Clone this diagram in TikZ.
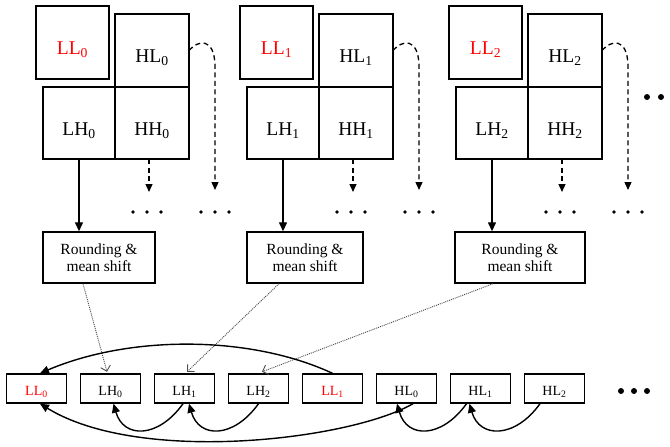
\documentclass[tikz,border=0pt]{standalone}
\usepackage{fontspec}
\setmainfont{Liberation Serif}
\usetikzlibrary{arrows.meta,calc}
\begin{document}
\begin{tikzpicture}[x=1pt,y=-1pt,
 topbox/.style={draw,line width=1.2pt,inner sep=0pt,outer sep=0pt,font=\fontsize{19.5}{22}\selectfont,text height=24pt,text depth=0pt},
 roundbox/.style={draw,line width=1.4pt,inner sep=0pt,align=center,font=\fontsize{15.5}{17}\selectfont,minimum height=51pt},
 rowbox/.style={draw,line width=1.4pt,inner sep=0pt,minimum width=60pt,minimum height=29pt,font=\fontsize{14}{16}\selectfont,text height=14pt,text depth=0pt},
 solidarrow/.style={line width=1.3pt,-{Triangle[length=9pt,width=8pt]}},
 dasharrow/.style={line width=1.3pt,dash pattern=on 5pt off 3.5pt,-{Triangle[length=8pt,width=7pt]}},
 dotarrow/.style={line width=0.9pt,black!70,dash pattern=on 1pt off 1pt,-{Straight Barb[length=5pt,width=10pt]}},
 arcarrow/.style={line width=1.4pt,-{Triangle[length=9pt,width=8pt]}},
 smalldot/.style={circle,fill=black,inner sep=0pt,minimum size=3.6pt},
 bigdot/.style={circle,fill=black,inner sep=0pt,minimum size=6pt}]
\useasboundingbox (0,0) rectangle (670,447);

% top groups
\foreach \i/\b/\rc/\rw in {0/36/99/112, 1/240/305/116, 2/449/520/130}{
  \node[topbox,minimum width=73pt,minimum height=73pt,text=red] (LL\i) at ({\b+36.5},42.5) {LL\textsubscript{\i}};
  \node[topbox,minimum width=74pt,minimum height=73pt] (HL\i) at ({\b+116},50.5) {HL\textsubscript{\i}};
  \node[topbox,minimum width=72pt,minimum height=72pt] (LH\i) at ({\b+43},123) {LH\textsubscript{\i}};
  \node[topbox,minimum width=74pt,minimum height=72pt] (HH\i) at ({\b+116},123) {HH\textsubscript{\i}};
  \node[roundbox,minimum width=\rw pt] (R\i) at (\rc,257.5) {Rounding \&\\mean shift};
  \draw[solidarrow] (LH\i.south) -- (LH\i.south |- R\i.north);
  \coordinate (hhend\i) at ({\b+113},192);
  \draw[dasharrow] (HH\i.south -| hhend\i) -- (hhend\i);
  \coordinate (hlend\i) at ({\b+179},190);
  \draw[dasharrow] (HL\i.east) .. controls ({\b+162},40) and ({\b+178},37) .. ({\b+179},65) -- (hlend\i);
  \foreach \dx in {-14,0,14}{
    \node[smalldot] (da\i\dx) at ({\b+111+\dx},212) {};
    \node[smalldot] (db\i\dx) at ({\b+179+\dx},212) {};
  }
}
\node[bigdot] (rd1) at (647,97) {};
\node[bigdot] (rd2) at (661,97) {};

% bottom row
\foreach \n/\t/\c/\col [count=\k from 0] in {bLL0/LL/0/red, bLH0/LH/0/black, bLH1/LH/1/black, bLH2/LH/2/black, bLL1/LL/1/red, bHL0/HL/0/black, bHL1/HL/1/black, bHL2/HL/2/black}{
  \node[rowbox,text=\col] (\n) at ({36.5+74*\k},388.5) {\t\textsubscript{\c}};
}

\foreach \dx [count=\j] in {621,634,647}{ \node[bigdot] (bd\j) at (\dx,391) {}; }

% dotted arrows
\draw[dotarrow] ([xshift=-16pt]R0.south) -- ([xshift=-3.5pt,yshift=1.5pt]bLH0.north);
\draw[dotarrow] ([xshift=-26pt]R1.south) -- ([xshift=2.5pt,yshift=1.5pt]bLH1.north);
\draw[dotarrow] ([xshift=-27pt]R2.south) -- ([xshift=3.5pt,yshift=1.5pt]bLH2.north);

% arcs
\draw[arcarrow] (bLL1.north) .. controls (250,335) and (130,335) .. ([xshift=3.5pt]bLL0.north);
\draw[arcarrow] ([xshift=6.5pt]bHL0.south) .. controls (350,440) and (140,465) .. ([xshift=3.5pt]bLL0.south);
\draw[arcarrow] ([xshift=-1.5pt]bLH1.south) .. controls +(-25,35) and +(10,35) .. ([xshift=3pt]bLH0.south);
\draw[arcarrow] (bLH2.south) .. controls +(-25,35) and +(10,35) .. ([xshift=4.5pt]bLH1.south);
\draw[arcarrow] ([xshift=-14pt]bHL1.south) .. controls +(-25,35) and +(10,35) .. ([xshift=-9.5pt]bHL0.south);
\draw[arcarrow] ([xshift=-14.5pt]bHL2.south) .. controls +(-25,35) and +(10,35) .. ([xshift=-11pt]bHL1.south);
\end{tikzpicture}
\end{document}
